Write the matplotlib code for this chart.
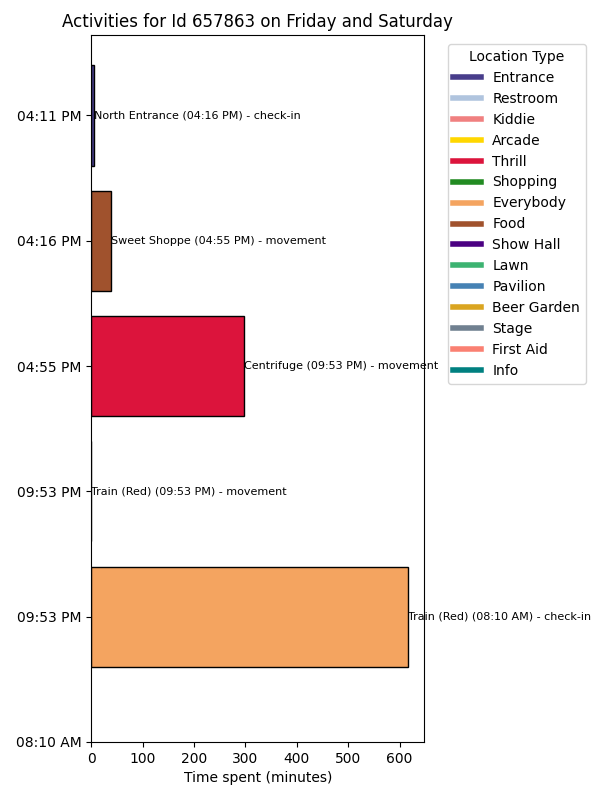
import matplotlib
matplotlib.use('Agg')
import matplotlib.pyplot as plt
from matplotlib.lines import Line2D

# activities, in order
start_times = ['04:11 PM', '04:16 PM', '04:55 PM', '09:53 PM', '09:53 PM']
end_times = ['04:16 PM', '04:55 PM', '09:53 PM', '09:53 PM', '08:10 AM']
places = ['North Entrance', 'Sweet Shoppe', 'Centrifuge', 'Train (Red)', 'Train (Red)']
kinds = ['check-in', 'movement', 'movement', 'movement', 'check-in']
place_types = ['Entrance', 'Food', 'Thrill', 'Everybody', 'Everybody']
minutes = [5, 39, 298, 0, 617]

type_names = ['Entrance', 'Restroom', 'Kiddie', 'Arcade', 'Thrill', 'Shopping', 'Everybody',
              'Food', 'Show Hall', 'Lawn', 'Pavilion', 'Beer Garden', 'Stage', 'First Aid', 'Info']
type_colors = ['darkslateblue', 'lightsteelblue', 'lightcoral', 'gold', 'crimson', 'forestgreen',
               'sandybrown', 'sienna', 'indigo', 'mediumseagreen', 'steelblue', 'goldenrod',
               'slategray', 'salmon', 'teal']
colmap = dict(zip(type_names, type_colors))

fig, ax = plt.subplots(figsize=(6, 8), dpi=100)

ypos = list(range(len(minutes)))
ax.barh(ypos, minutes, height=0.8, color=[colmap[t] for t in place_types], edgecolor='black')

for y, m, p, e, k in zip(ypos, minutes, places, end_times, kinds):
    ax.text(m, y, '%s (%s) - %s' % (p, e, k), va='center', ha='left', fontsize=8)

ax.set_yticks(list(range(len(start_times) + 1)))
ax.set_yticklabels(start_times + [end_times[-1]])
ax.set_ylim(len(start_times), -0.64)
ax.set_xlabel('Time spent (minutes)')
ax.set_title('Activities for Id 657863 on Friday and Saturday')

handles = [Line2D([0], [0], color=c, lw=4) for c in type_colors]
ax.legend(handles, type_names, title='Location Type', loc='upper left', bbox_to_anchor=(1.05, 0.997))

fig.subplots_adjust(left=0.152, right=0.707, top=0.956, bottom=0.0725)
fig.savefig('out.png')
